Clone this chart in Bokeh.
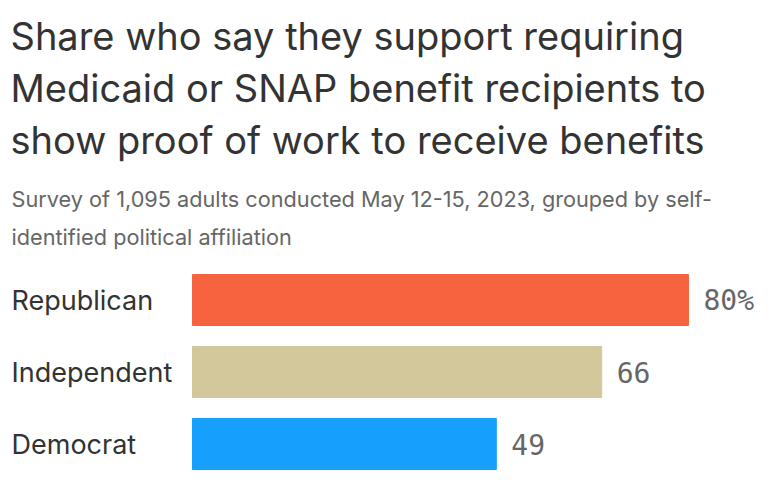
from bokeh.plotting import figure
from bokeh.models import Range1d, ColumnDataSource
from bokeh.core.properties import value
from bokeh.embed import file_html
from bokeh.resources import INLINE

# ---- data ----
categories = ["Republican", "Independent", "Democrat"]
support = [80, 66, 49]
value_labels = ["80%", "66", "49"]
bar_colors = ["#f6643f", "#d3c89b", "#179ffd"]

title_lines = [
    "Share who say they support requiring",
    "Medicaid or SNAP benefit recipients to",
    "show proof of work to receive benefits",
]
subtitle_lines = [
    "Survey of 1,095 adults conducted May 12-15, 2023, grouped by self-",
    "identified political affiliation",
]

W = 762
H = 472
SANS = "Inter"
MONO = "DejaVu Sans Mono"

# ---- scales: x in percent, y in "row" units (one row = 72 px) ----
px_per_unit = 6.2
x0 = -192 / px_per_unit
row_px = 72.0
n = len(categories)
ypos = [n - 1 - i for i in range(n)]
top = (n - 1) + (256 + 43.5) / row_px   # first row centre sits 299.5 px from top


def py(px):
    """pixel distance from the top of the canvas -> y data units"""
    return top - px / row_px


def pxx(px):
    return x0 + px / px_per_unit


p = figure(width=W, height=H, output_backend="svg", toolbar_location=None,
           x_range=Range1d(x0, x0 + W / px_per_unit),
           y_range=Range1d(top - H / row_px, top),
           x_axis_location=None, y_axis_location=None, min_border=0,
           outline_line_color=None)
p.grid.visible = False

# header texts
p.text(x=[pxx(10)] * 3, y=[py(35), py(87), py(139)], text=title_lines,
       text_font=value(SANS), text_font_size="38px", text_color="#333333",
       text_baseline="middle", text_align="left")
p.text(x=[pxx(11)] * 2, y=[py(198.5), py(236.5)], text=subtitle_lines,
       text_font=value(SANS), text_font_size="21.7px", text_color="#666666",
       text_baseline="middle", text_align="left")

# bars and labels
src = ColumnDataSource(dict(y=ypos, v=support, c=bar_colors, cat=categories, lab=value_labels,
                            lx=[x0] * n))
p.hbar(y="y", left=0, right="v", height=51 / row_px, color="c", source=src)
p.text(x="lx", y="y", text="cat", x_offset=11, source=src,
       text_font=value(SANS), text_font_size="27px", text_color="#333333",
       text_baseline="middle", text_align="left")
p.text(x="v", y="y", text="lab", x_offset=15, source=src,
       text_font=value(MONO), text_font_size="28px", text_color="#666666",
       text_baseline="middle", text_align="left")

open("out.html", "w").write(file_html(p, INLINE))
